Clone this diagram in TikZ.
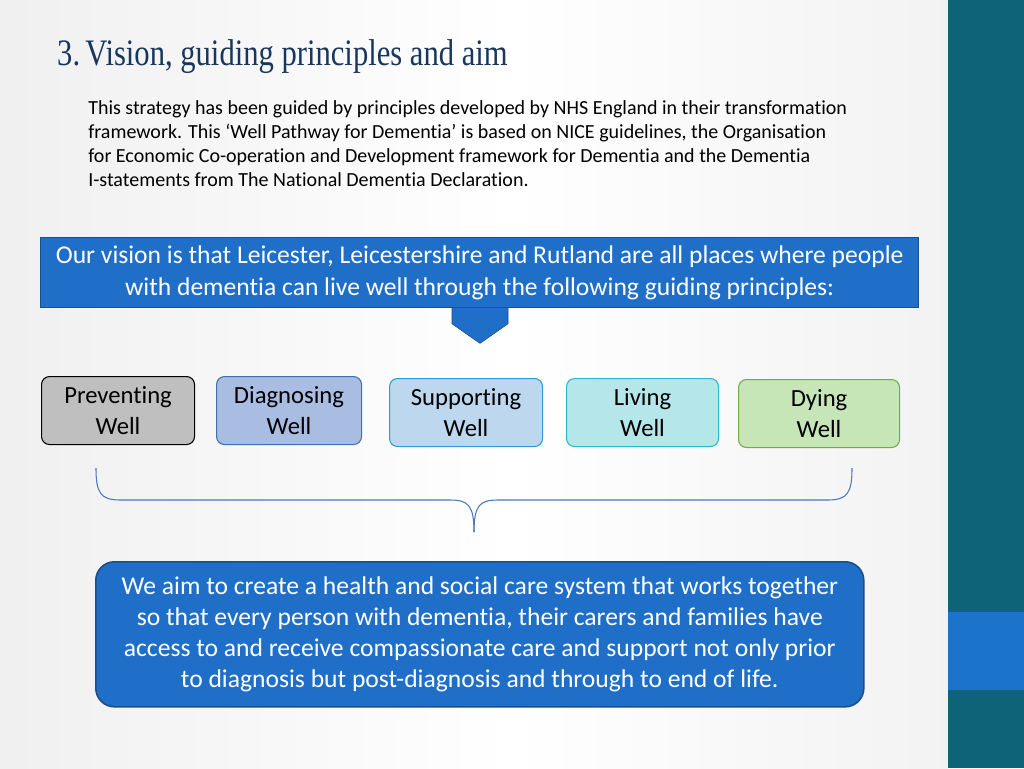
\documentclass[tikz,border=0pt]{standalone}
\usepackage{fontspec}
\setmainfont[Ligatures=NoCommon]{Carlito}
\newfontfamily\titlefont{Liberation Serif}
\usetikzlibrary{shapes.arrows}
\definecolor{teal}{HTML}{0E6378}
\definecolor{sideblue}{HTML}{1B74C9}
\definecolor{mainblue}{HTML}{1F6FC9}
\definecolor{edgeblue}{HTML}{1D4E89}
\definecolor{f2}{HTML}{A9BDE3}\definecolor{d2}{HTML}{3F6FB5}
\definecolor{f3}{HTML}{BDD7EE}\definecolor{d3}{HTML}{2E9BD5}
\definecolor{f4}{HTML}{B4E6EA}\definecolor{d4}{HTML}{2EB8C8}
\definecolor{f5}{HTML}{C6E6B8}\definecolor{d5}{HTML}{70AD47}
\definecolor{brace}{HTML}{4A7AB8}
\definecolor{titlec}{HTML}{17375E}
\tikzset{
 pbox/.style={draw, rounded corners=6pt, line width=0.8pt, align=center, font=\fontsize{18.5}{23}\selectfont, anchor=north west, inner sep=0pt, minimum height=68*0.75pt},
}
\begin{document}
\begin{tikzpicture}[x=0.75pt,y=-0.75pt]
\useasboundingbox (0,0) rectangle (1024,768);
\shade[left color=gray!12, right color=white] (0,0) rectangle (512,768);
\shade[left color=white, right color=gray!10] (512,0) rectangle (948,768);
\fill[teal] (948,0) rectangle (1024,768);
\fill[sideblue] (948,612) rectangle (1024,690);
\node[anchor=west, font=\titlefont\fontsize{28}{32}\selectfont, text=titlec, inner sep=0pt, xscale=0.82] (title) at (57,57) {3.\,Vision, guiding principles and aim};
\node[anchor=north west, align=left, font=\fontsize{15}{18.2}\selectfont, inner sep=0pt] (intro) at (88,100) {This strategy has been guided by principles developed by NHS England in their transformation\\framework. This ‘Well Pathway for Dementia’ is based on NICE guidelines, the Organisation\\for Economic Co-operation and Development framework for Dementia and the Dementia\\I-statements from The National Dementia Declaration.};
\node[draw=edgeblue, fill=mainblue, line width=1pt, text=white, align=center, minimum width=878*0.75pt, minimum height=70*0.75pt, font=\fontsize{19.2}{23.5}\selectfont, anchor=north west, inner sep=0pt] (vision) at (40,237) {Our vision is that Leicester, Leicestershire and Rutland are all places where people\\with dementia can live well through the following guiding principles:};
\node[single arrow, shape border rotate=270, draw=edgeblue, fill=mainblue, minimum width=56*0.75pt, single arrow head extend=0pt, single arrow tip angle=110, minimum height=36*0.75pt, inner sep=6pt, anchor=tail] (arr) at (480,307) {};
\node[pbox, fill=gray!50, draw=black, minimum width=153*0.75pt] (p1) at (41,376) {Preventing\\Well};
\node[pbox, fill=f2, draw=d2, minimum width=145*0.75pt] (p2) at (216,376) {Diagnosing\\Well};
\node[pbox, fill=f3, draw=d3, minimum width=153*0.75pt] (p3) at (389,378) {Supporting\\Well};
\node[pbox, fill=f4, draw=d4, minimum width=152*0.75pt] (p4) at (566,378) {Living\\Well};
\node[pbox, fill=f5, draw=d5, minimum width=161*0.75pt] (p5) at (738,379) {Dying\\Well};
\coordinate (bl) at (96,468);
\coordinate (br) at (852,468);
\coordinate (bt) at (474,532);
\draw[brace, line width=0.8pt] (bl) .. controls (96,492) and (100,500) .. (120,500) -- (450,500) .. controls (468,500) and (474,505) .. (bt);
\draw[brace, line width=0.8pt] (br) .. controls (852,492) and (848,500) .. (828,500) -- (498,500) .. controls (480,500) and (474,505) .. (bt);
\node[draw=edgeblue, fill=mainblue, line width=1.2pt, rounded corners=14pt, text=white, align=center, minimum width=768*0.75pt, minimum height=145*0.75pt, font=\fontsize{19.2}{23.3}\selectfont, anchor=north west, inner sep=0pt] (aim) at (95,561) {We aim to create a health and social care system that works together\\so that every person with dementia, their carers and families have\\access to and receive compassionate care and support not only prior\\to diagnosis but post-diagnosis and through to end of life.};
\end{tikzpicture}
\end{document}
